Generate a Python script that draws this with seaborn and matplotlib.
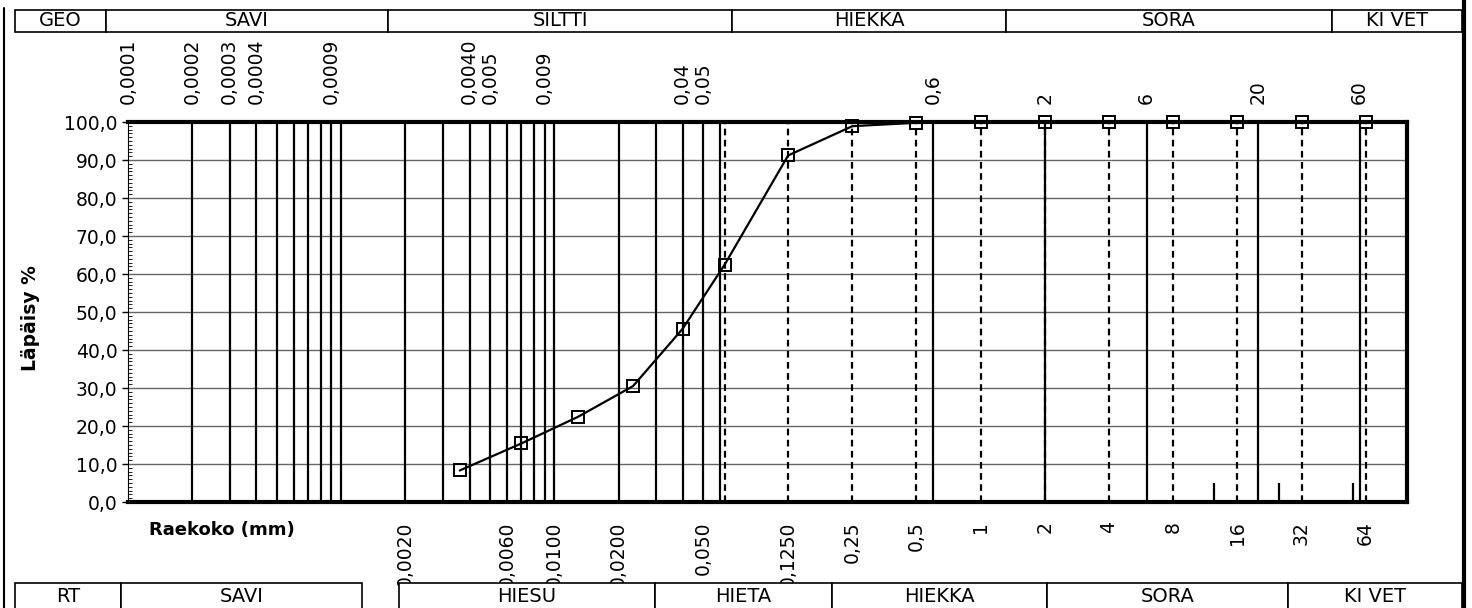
import matplotlib
matplotlib.use('Agg')
import matplotlib.pyplot as plt
from matplotlib.patches import Rectangle
from matplotlib.lines import Line2D
from matplotlib.ticker import NullLocator, MultipleLocator, FuncFormatter
import seaborn as sns
import pandas as pd

# rakeisuus (grain size) result
grain_mm = [0.0036, 0.0070, 0.0129, 0.0234, 0.0400, 0.063, 0.125, 0.25, 0.5, 1, 2, 4, 8, 16, 32, 64]
passing = [8.3, 15.4, 22.4, 30.5, 45.6, 62.5, 91.2, 98.9, 99.8, 99.9, 100, 100, 100, 100, 100, 100]

# lines printed on the form
solid_lines = [0.0002, 0.0003, 0.0004, 0.0005, 0.0006, 0.0007, 0.0008, 0.0009, 0.001,
               0.002, 0.003, 0.004, 0.005, 0.006, 0.007, 0.008, 0.009, 0.01,
               0.02, 0.03, 0.04, 0.05, 0.06, 0.6, 2, 6, 20, 60]
sieve_lines = [0.063, 0.125, 0.25, 0.5, 1, 2, 4, 8, 16, 32, 64]
short_marks = [12.5, 25, 56]

top_ticks = [0.0001, 0.0002, 0.0003, 0.0004, 0.0009, 0.004, 0.005, 0.009, 0.04, 0.05, 0.6, 2, 6, 20, 60]
top_labels = ['0,0001', '0,0002', '0,0003', '0,0004', '0,0009', '0,0040', '0,005', '0,009',
              '0,04', '0,05', '0,6', '2', '6', '20', '60']
bottom_ticks = [0.002, 0.006, 0.01, 0.02, 0.05, 0.125, 0.25, 0.5, 1, 2, 4, 8, 16, 32, 64]
bottom_labels = ['0,0020', '0,0060', '0,0100', '0,0200', '0,050', '0,1250', '0,25', '0,5',
                 '1', '2', '4', '8', '16', '32', '64']

geo_names = ['GEO', 'SAVI', 'SILTTI', 'HIEKKA', 'SORA', 'KI VET']
rt_names = ['RT', 'SAVI', 'HIESU', 'HIETA', 'HIEKKA', 'SORA', 'KI VET']

# cell edges of the header/footer tables in pixels
geo_edges = [15, 106, 388, 732, 1006, 1332, 1462]
rt_cells = [(15, 121), (121, 362), (399, 655), (655, 832), (832, 1047), (1047, 1288), (1288, 1462)]

W, H = 1472, 608


def fx(px):
    return px / W


def fy(py):
    return 1 - py / H


sns.set_style('white')
plt.rcParams['font.family'] = ['DejaVu Sans']
plt.rcParams['text.color'] = 'black'
plt.rcParams['xtick.color'] = 'black'
plt.rcParams['ytick.color'] = 'black'
plt.rcParams['axes.labelcolor'] = 'black'

fig = plt.figure(figsize=(W / 100, H / 100), dpi=100)
ax = fig.add_axes([fx(128), fy(502), (1407 - 128) / W, (502 - 122) / H])
ax.set_xscale('log')

df = pd.DataFrame({'d': grain_mm, 'p': passing})

# form grid
for v in range(10, 100, 10):
    ax.axhline(v, color='#666666', lw=1.0, zorder=1)
ax.vlines(solid_lines, 0, 100, color='black', lw=1.6, zorder=2)
ax.vlines(sieve_lines, 0, 100, color='black', lw=1.6, linestyles=(0, (3, 2)), zorder=2)
ax.vlines(short_marks, 0, 5, color='black', lw=1.6, zorder=2)

sns.lineplot(data=df, x='d', y='p', ax=ax, color='black', lw=1.6, marker='s', markersize=9,
             markerfacecolor='none', markeredgecolor='black', markeredgewidth=1.4,
             clip_on=False, zorder=5)

ax.set_xlim(0.0001, 100)
ax.set_ylim(0, 100)
ax.set_xlabel('')
ax.set_ylabel('')

# x labels
ax.set_xticks(bottom_ticks, labels=bottom_labels)
ax.xaxis.set_minor_locator(NullLocator())
ax.tick_params(axis='x', which='both', length=0, pad=14, labelsize=13.5, labelrotation=90,
               labelcolor='black')

sec = ax.secondary_xaxis('top')
sec.set_xticks(top_ticks, labels=top_labels)
sec.xaxis.set_minor_locator(NullLocator())
sec.tick_params(axis='x', which='both', length=0, pad=13, labelsize=13.5, labelrotation=90,
                labelcolor='black')
sec.spines['top'].set_visible(False)

# y axis
ax.set_yticks(range(0, 101, 10))
ax.yaxis.set_major_formatter(FuncFormatter(lambda v, p: f'{v:.1f}'.replace('.', ',')))
ax.yaxis.set_minor_locator(MultipleLocator(1))
ax.tick_params(axis='y', which='major', direction='out', length=4.5, width=1, pad=3, labelsize=13.5,
               left=True, labelcolor='black', color='black')
ax.tick_params(axis='y', which='minor', direction='in', length=3, width=0.6, left=True, color='black')

for s in ['top', 'bottom', 'right']:
    ax.spines[s].set_linewidth(3)
    ax.spines[s].set_color('black')
ax.spines['left'].set_linewidth(0.8)
ax.spines['left'].set_color('black')

fig.text(fx(30), fy(318), 'Läpäisy %', rotation=90, ha='center', va='center',
         fontsize=13.5, fontweight='bold', color='black')
fig.text(fx(222), fy(530), 'Raekoko (mm)', ha='center', va='center',
         fontsize=13, fontweight='bold', color='black')

# GEO table on top
for i, name in enumerate(geo_names):
    x0, x1 = geo_edges[i], geo_edges[i + 1]
    fig.add_artist(Rectangle((fx(x0), fy(32)), (x1 - x0) / W, 22 / H, transform=fig.transFigure,
                             facecolor='white', edgecolor='black', lw=1.2, zorder=10))
    fig.text(fx((x0 + x1) / 2), fy(21), name, ha='center', va='center', fontsize=14,
             color='black', zorder=11)

# RT table at bottom
for (x0, x1), name in zip(rt_cells, rt_names):
    fig.add_artist(Rectangle((fx(x0), fy(612)), (x1 - x0) / W, 29 / H, transform=fig.transFigure,
                             facecolor='white', edgecolor='black', lw=1.2, zorder=10))
    fig.text(fx((x0 + x1) / 2), fy(597), name, ha='center', va='center', fontsize=14,
             color='black', zorder=11)

# page border
fig.add_artist(Line2D([fx(4), fx(4)], [fy(8), fy(608)], transform=fig.transFigure,
                      color='black', lw=1.5, zorder=12))
fig.add_artist(Line2D([fx(1464), fx(1464)], [fy(0), fy(608)], transform=fig.transFigure,
                      color='black', lw=3, zorder=12))

fig.savefig('out.png', dpi=100, facecolor='white')
